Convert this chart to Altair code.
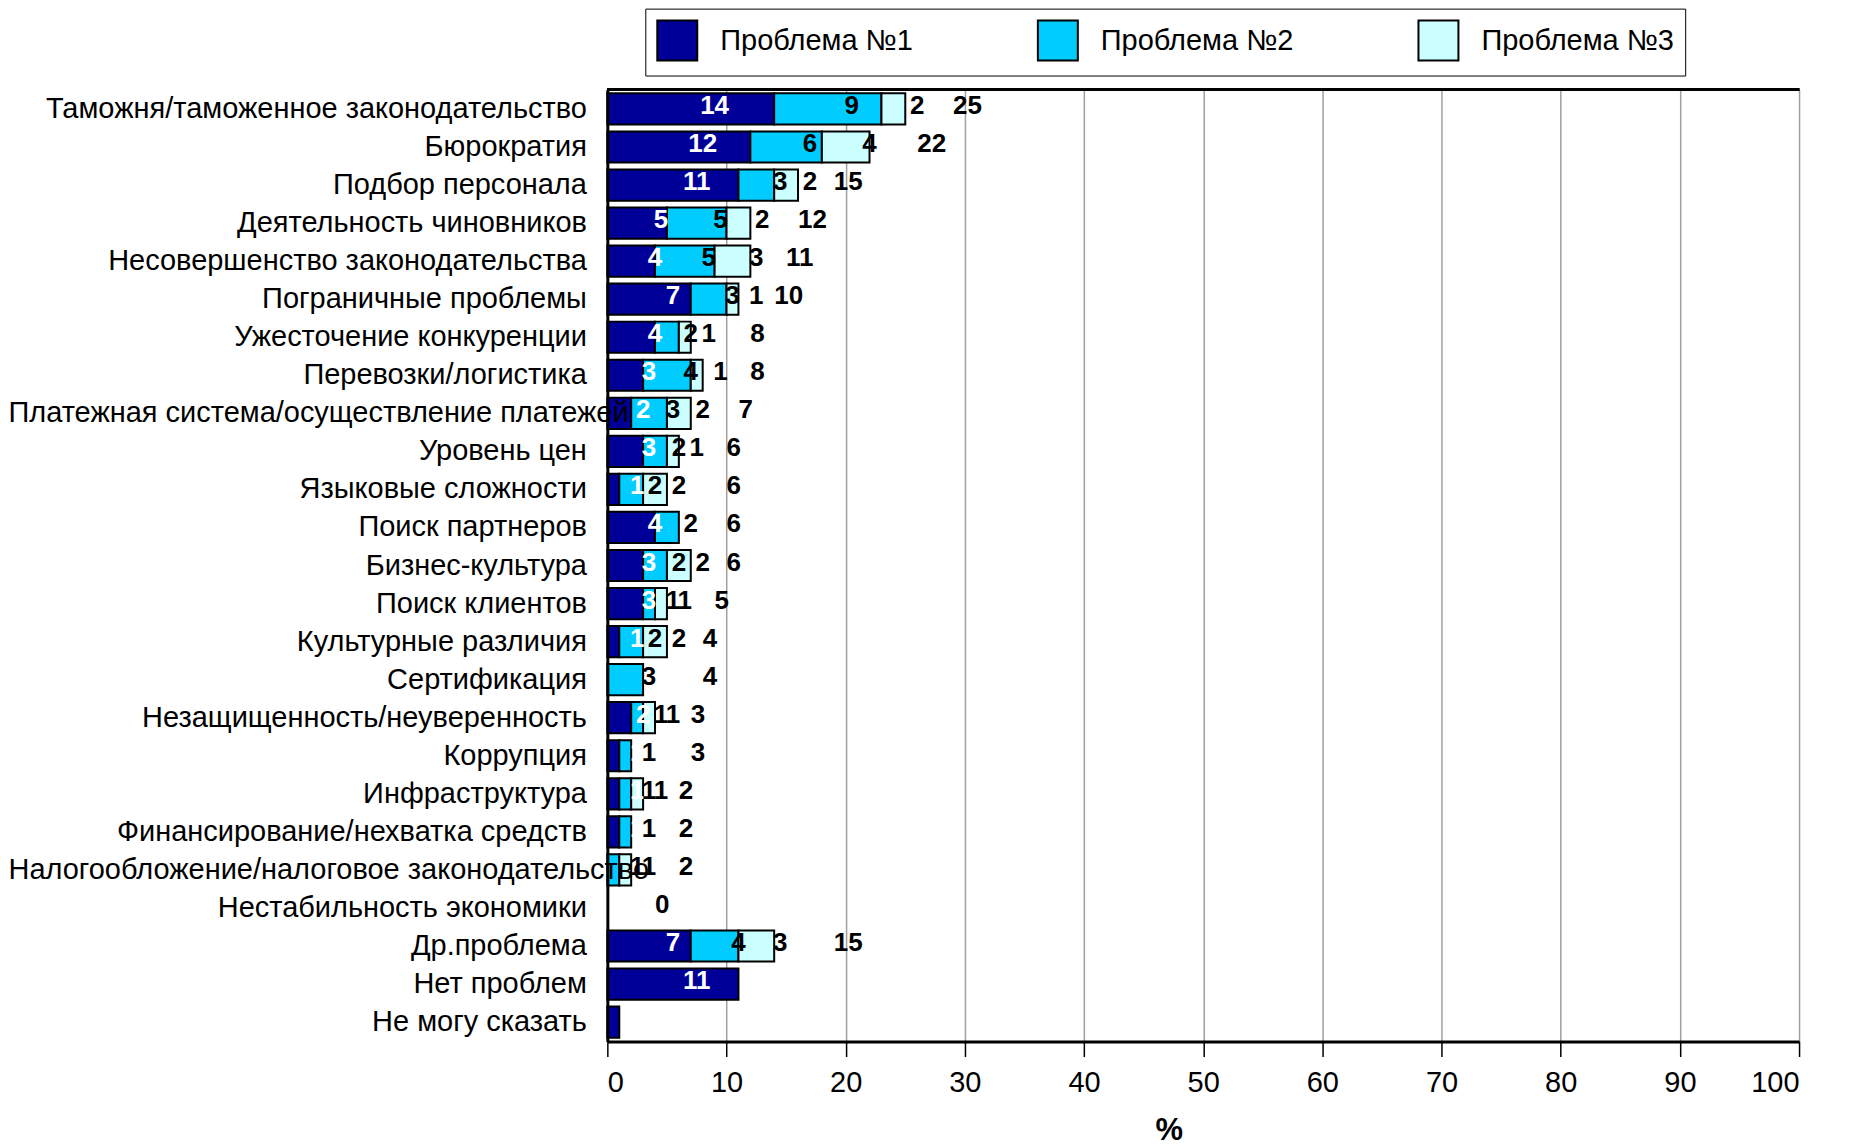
import altair as alt
import pandas as pd

categories = [
    "Таможня/таможенное законодательство",
    "Бюрократия",
    "Подбор персонала",
    "Деятельность чиновников",
    "Несовершенство законодательства",
    "Пограничные проблемы",
    "Ужесточение конкуренции",
    "Перевозки/логистика",
    "Платежная система/осуществление платежей",
    "Уровень цен",
    "Языковые сложности",
    "Поиск партнеров",
    "Бизнес-культура",
    "Поиск клиентов",
    "Культурные различия",
    "Сертификация",
    "Незащищенность/неуверенность",
    "Коррупция",
    "Инфраструктура",
    "Финансирование/нехватка средств",
    "Налогообложение/налоговое законодательство",
    "Нестабильность экономики",
    "Др.проблема",
    "Нет проблем",
    "Не могу сказать",
]
problem1 = [14, 12, 11, 5, 4, 7, 4, 3, 2, 3, 1, 4, 3, 3, 1, 0, 2, 1, 1, 1, 0, 0, 7, 11, 1]
problem2 = [9, 6, 3, 5, 5, 3, 2, 4, 3, 2, 2, 2, 2, 1, 2, 3, 1, 1, 1, 1, 1, 0, 4, 0, 0]
problem3 = [2, 4, 2, 2, 3, 1, 1, 1, 2, 1, 2, 0, 2, 1, 2, 0, 1, 0, 1, 0, 1, 0, 3, 0, 0]
totals = [25, 22, 15, 12, 11, 10, 8, 8, 7, 6, 6, 6, 6, 5, 4, 4, 3, 3, 2, 2, 2, 0, 15, None, None]
series_names = ["Проблема №1", "Проблема №2", "Проблема №3"]
series_colors = ["#000099", "#00CCFF", "#CCFFFF"]

rows = []
for i, cat in enumerate(categories):
    start = 0
    for s, vals in zip(series_names, [problem1, problem2, problem3]):
        v = vals[i]
        rows.append({"cat": cat, "series": s, "value": v, "start": start,
                     "end": start + v, "mid": start + v / 2})
        start += v
seg = pd.DataFrame(rows)
seg = seg[seg["value"] > 0]
tot = pd.DataFrame({"cat": categories, "total": totals}).dropna()

W, H = 1193, 953
FONT = "Liberation Sans"
BOLD = "Liberation Sans"
unit = W / 100.0

y_enc = alt.Y("cat:N", sort=categories,
              scale=alt.Scale(paddingInner=0.18, paddingOuter=0.1),
              axis=alt.Axis(title=None, labelFont=FONT, labelFontSize=29, labelColor="black",
                            labelAlign=alt.ExprRef("length(datum.label) > 38 ? 'left' : 'right'"),
                            labelPadding=alt.ExprRef("length(datum.label) > 38 ? 600 : 21"),
                            ticks=False, domainColor="black", domainWidth=3, labelLimit=800,
                            zindex=1))
x_scale = alt.Scale(domain=[0, 100], nice=False)

bars = alt.Chart(seg).mark_bar(stroke="black", strokeWidth=2).encode(
    y=y_enc,
    x=alt.X("start:Q", scale=x_scale,
            axis=alt.Axis(values=list(range(0, 101, 10)), title="%", titleFont=BOLD,
                          titleFontSize=31, titleFontWeight="bold", titleColor="black",
                          titleX=562, titleY=74, labelFont=FONT, labelFontSize=29,
                          labelColor="black", labelPadding=12, tickSize=15, tickColor="black",
                          tickWidth=1.5, domainColor="black", domainWidth=3, grid=True,
                          gridColor="#a0a0a0", gridWidth=1.5)),
    x2="end:Q",
    color=alt.Color("series:N", scale=alt.Scale(domain=series_names, range=series_colors),
                    legend=alt.Legend(title=None, orient="none", legendX=38, legendY=-81,
                                      direction="horizontal", columns=3, columnPadding=121,
                                      symbolType="square", symbolSize=1600,
                                      symbolStrokeColor="black", symbolStrokeWidth=2,
                                      labelFont=FONT, labelFontSize=29, labelColor="black",
                                      labelOffset=22, labelLimit=700, padding=11,
                                      fillColor="white", strokeColor="black")),
)

label_p1 = alt.Chart(seg[seg["series"] == series_names[0]]).mark_text(
    font=BOLD, fontSize=26, fontWeight="bold", color="white", align="center",
    baseline="middle", dx=2 * unit, dy=-3).encode(
    y=alt.Y("cat:N", sort=categories), x=alt.X("mid:Q", scale=x_scale), text="value:Q")

label_p23 = alt.Chart(seg[seg["series"] != series_names[0]]).mark_text(
    font=BOLD, fontSize=26, fontWeight="bold", color="black", align="center",
    baseline="middle", dx=2 * unit, dy=-3).encode(
    y=alt.Y("cat:N", sort=categories), x=alt.X("mid:Q", scale=x_scale), text="value:Q")

label_tot = alt.Chart(tot).mark_text(
    font=BOLD, fontSize=26, fontWeight="bold", color="black", align="left",
    baseline="middle", dx=4 * unit, dy=-3).encode(
    y=alt.Y("cat:N", sort=categories), x=alt.X("total:Q", scale=x_scale), text="total:Q")

top_line = alt.Chart(tot).mark_rule(color="black", strokeWidth=3).encode(
    x=alt.value(0), x2=alt.value(W), y=alt.value(0))

chart = alt.layer(bars, label_p1, label_p23, label_tot, top_line).properties(
    width=W, height=H,
    autosize=alt.AutoSizeParams(type="none"),
    padding={"left": 600, "top": 81, "right": 50, "bottom": 105},
    background="white",
).configure_view(stroke=None)

chart.save("out.html", embed_options={"renderer": "svg", "actions": False})
